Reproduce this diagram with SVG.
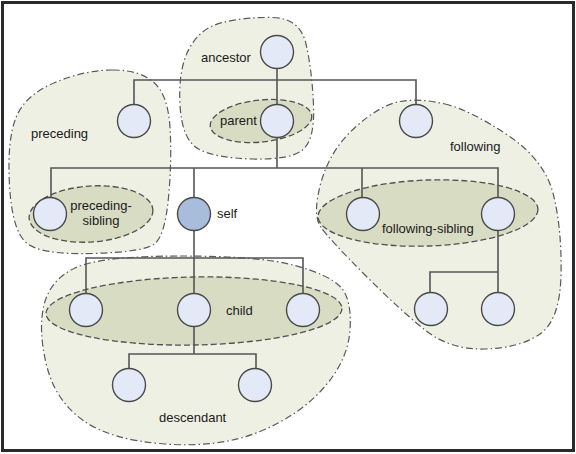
<svg xmlns="http://www.w3.org/2000/svg" width="576" height="454" viewBox="0 0 576 454">
<style>
.region{fill:#eef0e4;stroke:#5a5a5a;stroke-width:1.2;stroke-dasharray:7 3 1.5 3}
.inner{fill:#d8dcc3;stroke:#505050;stroke-width:1.3;stroke-dasharray:6 3}
.conn{fill:none;stroke:#555;stroke-width:1.6}
.node{fill:#e3e9f6;stroke:#4a4a4a;stroke-width:1.4}
.selfnode{fill:#a8bcdc;stroke:#4a4a4a;stroke-width:1.4}
.lbl{font-family:"Liberation Sans",Arial,sans-serif;font-size:13px;fill:#1a1a1a}
</style>
<rect x="0" y="0" width="576" height="454" fill="#fff"/>
<rect x="2.5" y="2.5" width="571" height="448" fill="#fff" stroke="#2a2a2a" stroke-width="3"/>

<g id="regions">
<path id="region-ancestor" class="region" d="M272.5,17.5 Q300,18 306,44 Q312,70 313.5,105 Q315,140 302.5,150 Q290,160 252.5,159 Q215,158 198.5,149 Q182,140 180,105 Q178,70 189,49 Q200,28 222.5,22.5 Q245,17 272.5,17.5 Z"/>
<path id="region-preceding" class="region" d="M112.5,70 Q140,70 154,82.5 Q168,95 170,127.5 Q172,160 168.5,197.5 Q165,235 155,243.5 Q145,252 92.5,253.5 Q40,255 26,242.5 Q12,230 9.5,185 Q7,140 16,117.5 Q25,95 55,82.5 Q85,70 112.5,70 Z"/>
<path id="region-following" class="region" d="M445,104 Q470,110 507.5,135 Q545,160 553.5,195 Q562,230 561,275 Q560,320 540,334 Q520,348 485,349 Q450,350 425,330 Q400,310 365,275 Q330,240 321,227.5 Q312,215 321,182.5 Q330,150 355,127.5 Q380,105 400,101.5 Q420,98 445,104 Z"/>
<path id="region-descendant" class="region" d="M180,256 Q260,256 295,265.5 Q330,275 341,287.5 Q352,300 350,330 Q348,360 324,387.5 Q300,415 260,431.5 Q220,448 165,444 Q110,440 82.5,420 Q55,400 46.5,365 Q38,330 44,305 Q50,280 75,268 Q100,256 180,256 Z"/>
<ellipse id="region-parent" class="inner" cx="261" cy="121" rx="51" ry="21" transform="rotate(-6 261 121)"/>
<ellipse id="region-preceding-sibling" class="inner" cx="91" cy="214" rx="62" ry="28" transform="rotate(-4 91 214)"/>
<ellipse id="region-following-sibling" class="inner" cx="428" cy="213" rx="110" ry="33" transform="rotate(-2 428 213)"/>
<ellipse id="region-child" class="inner" cx="194" cy="311" rx="148" ry="34" transform="rotate(-1 194 311)"/>
</g>

<g id="connectors">
<path class="conn" d="M277,68 V105"/>
<path class="conn" d="M134,105 V80 H416 V105"/>
<path class="conn" d="M277,137 V168"/>
<path class="conn" d="M51,198 V168 H498 V198"/>
<path class="conn" d="M194,168 V198"/>
<path class="conn" d="M362,168 V198"/>
<path class="conn" d="M498,230 V293"/>
<path class="conn" d="M430,293 V272 H498"/>
<path class="conn" d="M194,230 V294"/>
<path class="conn" d="M86,294 V258 H303 V294"/>
<path class="conn" d="M194,326 V354"/>
<path class="conn" d="M129,369 V354 H256 V369"/>
</g>

<g id="node-ancestor"><circle class="node" cx="277" cy="52" r="16.5"/></g>
<g id="node-parent"><circle class="node" cx="277" cy="121" r="16.5"/></g>
<g id="node-preceding"><circle class="node" cx="134" cy="121" r="16.5"/></g>
<g id="node-following"><circle class="node" cx="416" cy="121" r="16.5"/></g>
<g id="node-preceding-sibling"><circle class="node" cx="50" cy="214" r="16.5"/></g>
<g id="node-self"><circle class="selfnode" cx="194" cy="214" r="16.5"/></g>
<g id="node-following-sibling-1"><circle class="node" cx="363" cy="214" r="16.5"/></g>
<g id="node-following-sibling-2"><circle class="node" cx="498" cy="214" r="16.5"/></g>
<g id="node-following-1"><circle class="node" cx="431" cy="309" r="16.5"/></g>
<g id="node-following-2"><circle class="node" cx="498" cy="309" r="16.5"/></g>
<g id="node-child-1"><circle class="node" cx="86" cy="310" r="16.5"/></g>
<g id="node-child-2"><circle class="node" cx="194" cy="310" r="16.5"/></g>
<g id="node-child-3"><circle class="node" cx="303" cy="310" r="16.5"/></g>
<g id="node-descendant-1"><circle class="node" cx="129" cy="385" r="16.5"/></g>
<g id="node-descendant-2"><circle class="node" cx="255" cy="385" r="16.5"/></g>

<g id="labels">
<text class="lbl" x="201" y="62">ancestor</text>
<text class="lbl" x="220" y="125">parent</text>
<text class="lbl" x="31" y="138">preceding</text>
<text class="lbl" x="101" y="210" text-anchor="middle">preceding-</text>
<text class="lbl" x="101" y="225" text-anchor="middle">sibling</text>
<text class="lbl" x="217" y="218">self</text>
<text class="lbl" x="450" y="151">following</text>
<text class="lbl" x="382" y="233">following-sibling</text>
<text class="lbl" x="226" y="315">child</text>
<text class="lbl" x="159" y="422">descendant</text>
</g>
</svg>
